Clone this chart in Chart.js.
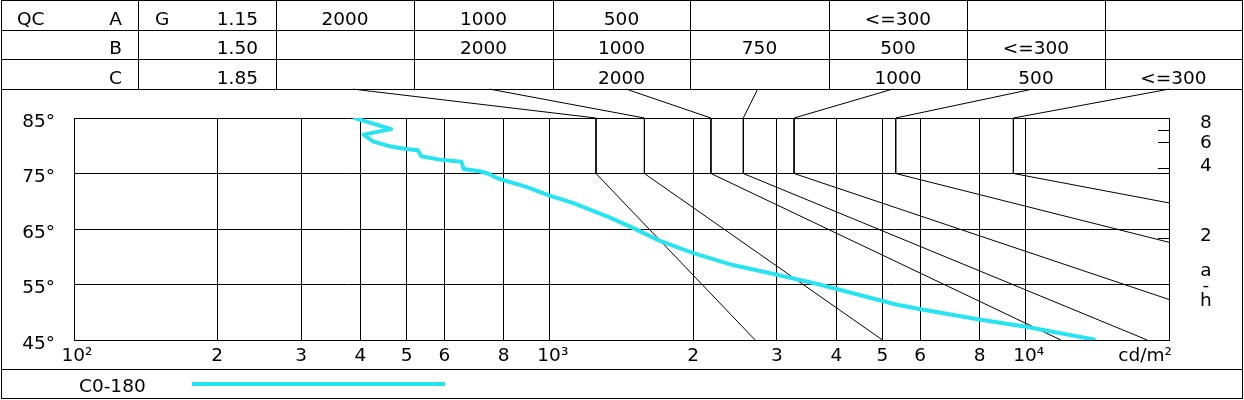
<!DOCTYPE html>
<html><head><meta charset="utf-8">
<script src="https://cdn.jsdelivr.net/npm/chart.js@4/dist/chart.umd.min.js"></script>
<style>
body{margin:0;background:#fff;}
#wrap{position:relative;width:1244px;height:400px;overflow:hidden;font-family:'DejaVu Sans';font-size:18.5px;color:#000;background:#fff;}
canvas{position:absolute;left:0;top:0;}
.h{position:absolute;height:1px;background:#000;}
.v{position:absolute;width:1px;background:#000;}
.t{position:absolute;height:30px;line-height:30px;white-space:nowrap;}
</style></head>
<body><div id="wrap"><canvas id="c" width="1244" height="400"></canvas></div>
<script>
// ---- table data ----
const qcLabel = 'QC';
const gLabel = 'G';
const qcClasses = ['A', 'B', 'C'];
const gValues = ['1.15', '1.50', '1.85'];
const limitRowA = ['2000', '1000', '500', '', '<=300', '', ''];
const limitRowB = ['', '2000', '1000', '750', '500', '<=300', ''];
const limitRowC = ['', '', '2000', '', '1000', '500', '<=300'];

// ---- measured luminance curve (cd/m2 vs angle in degrees) ----
const curveName = 'C0-180';
const curveLum = [389, 464, 406, 425, 461, 499, 528, 537, 587, 652, 659, 712, 741, 778, 892, 999, 1117, 1335, 1494, 1699, 1996, 2423, 2988, 3685, 5338, 5974, 7983, 10005, 13900];
const curveAngle = [85, 83.0, 82.0, 80.8, 79.9, 79.4, 79.2, 78.1, 77.5, 77.1, 75.8, 75.4, 75.0, 74.1, 72.6, 71.0, 69.7, 67.1, 65.2, 62.9, 60.7, 58.5, 56.8, 55.0, 51.4, 50.6, 48.7, 47.4, 45.1];

// ---- limiting curves ----
const limitTopLum = [1250, 1580, 2180, 2550, 3260, 5330, 9420];
const limitEndLum = [2700, 5000, 11850, 18000, 20000, 20000, 20000];
const limitEndAngle = [45, 45, 45, 45, 52.3, 62.6, 69.7];
const limitLinkLum = [386, 747, 1447, 2733, 5250, 10330, 20000];
const bandTopAngle = 85;
const bandKneeAngle = 75;
const linkAngle = 90.2;

// ---- axes ----
const xTickValues = [100, 200, 300, 400, 500, 600, 800, 1000, 2000, 3000, 4000, 5000, 6000, 8000, 10000];
const xTickLabels = [' 10²', '2', '3', '4', '5', '6', '8', ' 10³', '2', '3', '4', '5', '6', '8', ' 10⁴'];
const unitLabel = 'cd/m²';
const yTickValues = [45, 55, 65, 75, 85];
const rightLabels = ['8', '6', '4', '2', 'a', '-', 'h'];
const rightLabelAngles = [84.7, 81.2, 77.0, 64.5, 58.1, 55.5, 52.7];
const glareTickAngles = [82.9, 80.6, 76.0, 63.4];

// ---- HTML frame / table ----
const wrap = document.getElementById('wrap');
function el(cls, css, txt) {
  const d = document.createElement('div');
  d.className = cls; d.style.cssText = css;
  if (txt !== undefined) d.textContent = txt;
  wrap.appendChild(d); return d;
}
const colX = [1, 138, 276, 414, 553, 690, 829, 967, 1105, 1242];
const rowY = [0, 30, 59, 89];
rowY.forEach(y => el('h', `left:1px;top:${y}px;width:1242px;`));
colX.slice(1, -1).forEach(x => el('v', `left:${x}px;top:0;height:89px;`));
el('v', 'left:1px;top:0;height:399px;');
el('v', 'left:1242px;top:0;height:399px;');
el('h', 'left:1px;top:369px;width:1242px;');
el('h', 'left:1px;top:398px;width:1242px;');

const textTops = [3.6, 33.3, 63.0];
el('t', `left:17px;top:${textTops[0]}px;`, qcLabel);
el('t', `left:155px;top:${textTops[0]}px;`, gLabel);
[limitRowA, limitRowB, limitRowC].forEach((row, r) => {
  el('t', `left:0;width:122px;text-align:right;top:${textTops[r]}px;`, qcClasses[r]);
  el('t', `left:138px;width:120px;text-align:right;top:${textTops[r]}px;`, gValues[r]);
  row.forEach((txt, c) => {
    if (!txt) return;
    const l = colX[c + 2], w = colX[c + 3] - colX[c + 2];
    el('t', `left:${l}px;width:${w}px;text-align:center;top:${textTops[r]}px;`, txt);
  });
});
el('t', 'left:79px;top:370.8px;', curveName);
const curveColor = 'rgb(40,228,240)';
el('h', `left:192px;top:382px;width:253px;height:4px;background:${curveColor};`);

// ---- chart ----
const unitPos = 17810;
const FONT = {family: 'DejaVu Sans', size: 18.5};

const glareTicks = {
  id: 'glareTicks',
  afterDraw(chart) {
    const {ctx, chartArea, scales} = chart;
    ctx.save(); ctx.strokeStyle = '#000'; ctx.lineWidth = 1;
    glareTickAngles.forEach(a => {
      const py = Math.round(scales.y.getPixelForValue(a)) + 0.5;
      ctx.beginPath(); ctx.moveTo(chartArea.right - 11, py); ctx.lineTo(chartArea.right, py); ctx.stroke();
    });
    ctx.restore();
  }
};

const datasets = [{
  label: curveName,
  data: curveLum.map((l, i) => ({x: l, y: curveAngle[i]})),
  borderColor: curveColor, backgroundColor: curveColor,
  borderWidth: 4, showLine: true, pointRadius: 0, tension: 0,
  borderJoinStyle: 'round', borderCapStyle: 'round'
}];
limitTopLum.forEach((L, i) => {
  datasets.push({
    label: 'limit ' + (i + 1),
    data: [
      {x: limitLinkLum[i], y: linkAngle},
      {x: L, y: bandTopAngle},
      {x: L, y: bandKneeAngle},
      {x: limitEndLum[i], y: limitEndAngle[i]}
    ],
    borderColor: '#000', borderWidth: 1, showLine: true, pointRadius: 0, tension: 0, clip: false
  });
});

new Chart(document.getElementById('c'), {
  type: 'scatter',
  data: {datasets},
  options: {
    responsive: false, animation: false, devicePixelRatio: 1,
    layout: {padding: {top: 118, left: 0, right: 0, bottom: 0}},
    plugins: {legend: {display: false}, tooltip: {enabled: false}},
    scales: {
      x: {
        type: 'logarithmic', min: 100, max: 20000,
        afterBuildTicks: s => { s.ticks = xTickValues.concat([unitPos]).map(v => ({value: v})); },
        afterFit: s => { s.height = 60; },
        ticks: {autoSkip: false, maxRotation: 0, minRotation: 0, padding: 5, color: '#000', font: FONT,
          callback: (v, i) => i < xTickLabels.length ? xTickLabels[i] : unitLabel},
        grid: {drawTicks: false, lineWidth: 1,
          color: c => (c.tick && c.tick.value === unitPos) ? 'rgba(0,0,0,0)' : '#000'},
        border: {display: true, color: '#000'}
      },
      y: {
        type: 'linear', position: 'left', min: 45, max: 85,
        afterBuildTicks: s => { s.ticks = yTickValues.map(v => ({value: v})); },
        afterFit: s => { s.width = 74; },
        ticks: {padding: 19, labelOffset: 4, color: '#000', font: FONT, callback: v => v + '°'},
        grid: {drawTicks: false, color: '#000', lineWidth: 1},
        border: {display: true, color: '#000'}
      },
      yr: {
        type: 'linear', position: 'right', min: 45, max: 85,
        afterBuildTicks: s => { s.ticks = rightLabelAngles.map(v => ({value: v})); },
        afterFit: s => { s.width = 75; },
        ticks: {padding: 31, crossAlign: 'center', labelOffset: 4, color: '#000', font: FONT,
          callback: (v, i) => rightLabels[i]},
        grid: {drawOnChartArea: false, drawTicks: false},
        border: {display: true, color: '#000'}
      }
    }
  },
  plugins: [glareTicks]
});
</script>
</body></html>
